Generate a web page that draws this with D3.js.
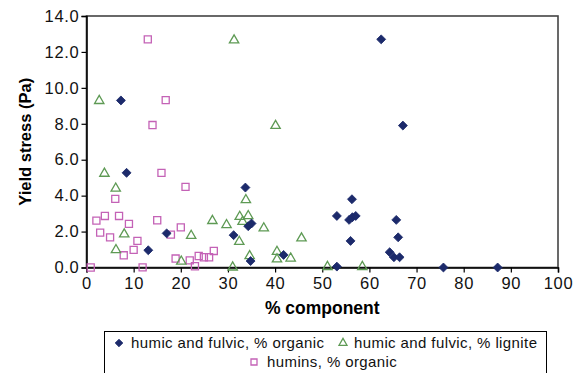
<!DOCTYPE html>
<html>
<head>
<meta charset="utf-8">
<script src="https://cdn.jsdelivr.net/npm/d3@7"></script>
<style>
  body { margin: 0; background: #fff; }
  svg { display: block; font-family: "Liberation Sans", Arial, sans-serif; }
</style>
</head>
<body>
<div id="chart"></div>
<script>
// humic and fulvic, % organic
const organicX = [7.3, 8.5, 13.1, 17.0, 31.2, 33.7, 34.3, 35.0, 34.8, 41.8, 53.1, 53.1, 56.3, 55.7, 56.4, 57.1, 56.0, 62.5, 65.7, 66.1, 64.3, 65.2, 66.4, 67.1, 75.7, 87.2];
const organicY = [9.3, 5.27, 0.96, 1.9, 1.8, 4.45, 2.3, 2.45, 0.36, 0.7, 0.05, 2.87, 3.8, 2.65, 2.8, 2.87, 1.48, 12.7, 2.65, 1.68, 0.85, 0.57, 0.57, 7.9, 0.0, 0.0];

// humic and fulvic, % lignite
const ligniteX = [2.7, 3.8, 6.2, 8.0, 6.25, 20.1, 22.2, 26.7, 29.7, 31.0, 31.3, 32.4, 32.5, 33.1, 33.8, 34.3, 34.6, 37.6, 40.1, 40.4, 40.4, 43.3, 45.6, 51.1, 58.5];
const ligniteY = [9.28, 5.23, 4.4, 1.85, 0.98, 0.34, 1.77, 2.6, 2.37, 0.01, 12.65, 1.44, 2.83, 2.55, 3.76, 2.87, 0.64, 2.19, 7.89, 0.88, 0.46, 0.51, 1.63, 0.04, 0.04];

// humins, % organic
const huminsX = [0.9, 2.1, 2.9, 3.9, 5.0, 6.1, 6.9, 7.9, 9.0, 10.0, 10.8, 11.9, 13.0, 14.0, 15.0, 15.9, 16.8, 17.9, 18.9, 20.0, 21.0, 21.9, 23.0, 23.8, 24.9, 26.0, 27.0];
const huminsY = [0.0, 2.61, 1.94, 2.87, 1.68, 3.82, 2.87, 0.68, 2.43, 0.98, 1.48, 0.01, 12.7, 7.93, 2.63, 5.27, 9.32, 1.83, 0.5, 2.23, 4.49, 0.4, 0.07, 0.64, 0.57, 0.57, 0.92];

const xTicks = [0, 10, 20, 30, 40, 50, 60, 70, 80, 90, 100];
const yTicks = [0, 2, 4, 6, 8, 10, 12, 14];

const width = 588, height = 373;
const margin = { left: 86.5, right: 30, top: 16, bottom: 105.5 };
const plotW = width - margin.left - margin.right;
const plotH = height - margin.top - margin.bottom;

const svg = d3.select('#chart')
    .append('svg')
    .attr('width', width)
    .attr('height', height);

const x = d3.scaleLinear().domain([0, 100]).range([margin.left, margin.left + plotW]);
const y = d3.scaleLinear().domain([0, 14]).range([margin.top + plotH, margin.top]);

// plot frame
svg.append('rect')
    .attr('x', x(0))
    .attr('y', y(14))
    .attr('width', x(100) - x(0))
    .attr('height', y(0) - y(14))
    .attr('fill', 'none')
    .attr('stroke', '#444')
    .attr('stroke-width', 1.6);

const xAxis = svg.append('g')
    .attr('transform', `translate(0,${y(0)})`)
    .call(d3.axisBottom(x).tickValues(xTicks).tickSize(5).tickPadding(5).tickFormat(d3.format('d')));

const yAxis = svg.append('g')
    .attr('transform', `translate(${x(0)},0)`)
    .call(d3.axisLeft(y).tickValues(yTicks).tickSize(5).tickPadding(3).tickFormat(d3.format('.1f')));

[xAxis, yAxis].forEach(a => {
    a.select('.domain').attr('stroke', '#000').attr('stroke-width', 1.5);
    a.selectAll('.tick line').attr('stroke', '#000').attr('stroke-width', 1.2);
    a.selectAll('.tick text')
        .attr('fill', '#111')
        .style('font-size', '16.5px')
        .style('letter-spacing', '0.7px')
        .style('font-family', '"Liberation Sans", Arial, sans-serif');
});
yAxis.selectAll('.tick text').attr('x', -7);

// axis titles
svg.append('text')
    .attr('x', (x(0) + x(100)) / 2)
    .attr('y', 314)
    .attr('text-anchor', 'middle')
    .style('font-size', '17.5px')
    .style('font-weight', 'bold')
    .text('% component');

svg.append('text')
    .attr('transform', `translate(31,${(y(0) + y(14)) / 2}) rotate(-90)`)
    .attr('text-anchor', 'middle')
    .style('font-size', '16.5px')
    .style('font-weight', 'bold')
    .text('Yield stress (Pa)');

const series = [
    { name: 'humic and fulvic, % organic', xs: organicX, ys: organicY, shape: 'diamond' },
    { name: 'humic and fulvic, % lignite', xs: ligniteX, ys: ligniteY, shape: 'triangle' },
    { name: 'humins, % organic', xs: huminsX, ys: huminsY, shape: 'square' }
];

function marker(sel, shape, scale) {
    const k = scale || 1;
    if (shape === 'diamond') {
        sel.append('path')
            .attr('d', d3.symbol(d3.symbolSquare, 40 * k * k)())
            .attr('transform', 'rotate(45)')
            .attr('fill', '#1c2a6b')
            .attr('stroke', '#1c2a6b')
            .attr('stroke-width', 0.8);
    } else if (shape === 'triangle') {
        sel.append('path')
            .attr('d', d3.symbol(d3.symbolTriangle, 38 * k * k)())
            .attr('fill', 'none')
            .attr('stroke', '#5e9a54')
            .attr('stroke-width', 1.3);
    } else {
        sel.append('path')
            .attr('d', d3.symbol(d3.symbolSquare, 50 * k * k)())
            .attr('fill', 'none')
            .attr('stroke', '#c462b6')
            .attr('stroke-width', 1.3);
    }
}

// draw squares first, then triangles, then diamonds on top
[series[2], series[1], series[0]].forEach(s => {
    const pts = s.xs.map((v, i) => ({ x: v, y: s.ys[i] }));
    svg.append('g')
        .selectAll('g')
        .data(pts)
        .join('g')
        .attr('transform', d => `translate(${x(d.x)},${y(d.y)})`)
        .each(function () { marker(d3.select(this), s.shape); });
});

// legend
const legend = svg.append('g');
legend.append('rect')
    .attr('x', 104.5)
    .attr('y', 331.5)
    .attr('width', 442)
    .attr('height', 42)
    .attr('fill', '#fff')
    .attr('stroke', '#000')
    .attr('stroke-width', 1);

const legendItems = [
    { s: series[0], mx: 119, tx: 131, cy: 343 },
    { s: series[1], mx: 343, tx: 354, cy: 343 },
    { s: series[2], mx: 254, tx: 267, cy: 362 }
];

legendItems.forEach(it => {
    const gItem = legend.append('g');
    gItem.append('g')
        .attr('transform', `translate(${it.mx},${it.cy})`)
        .each(function () { marker(d3.select(this), it.s.shape, 0.85); });
    gItem.append('text')
        .attr('x', it.tx)
        .attr('y', it.cy)
        .attr('dy', '0.35em')
        .style('font-size', '15px')
        .style('letter-spacing', '0.4px')
        .attr('fill', '#111')
        .text(it.s.name);
});
</script>
</body>
</html>
